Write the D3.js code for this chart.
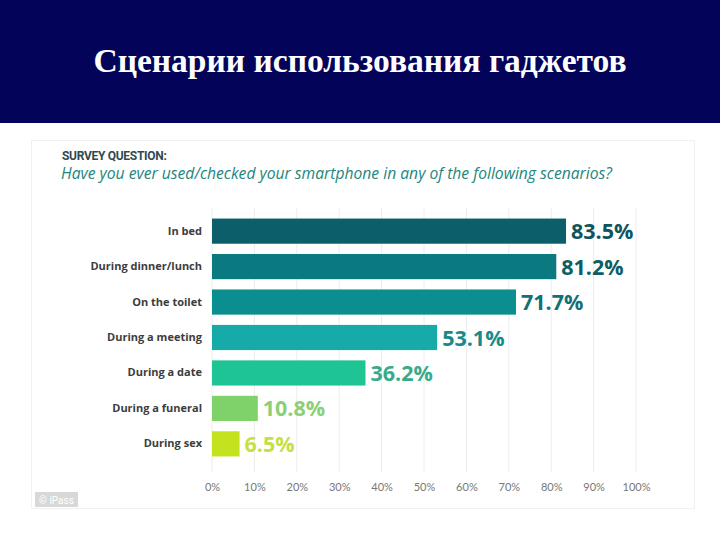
<!DOCTYPE html>
<html>
<head>
<meta charset="utf-8">
<script src="https://cdn.jsdelivr.net/npm/d3@7"></script>
<style>
  body { margin: 0; background: #fff; }
  svg { display: block; }
</style>
</head>
<body>
<svg id="svg1" width="720" height="540"></svg>
<script>
// data
const categories = ["In bed", "During dinner/lunch", "On the toilet", "During a meeting", "During a date", "During a funeral", "During sex"];
const values = [83.5, 81.2, 71.7, 53.1, 36.2, 10.8, 6.5];
const barColors = ["#0c5f6a", "#0a7a80", "#0b8e90", "#16aba9", "#1fc495", "#7fd16a", "#c4e21e"];
const labelColors = ["#0e5560", "#0e5e66", "#137076", "#1a8a88", "#37ab8c", "#8bd074", "#c6df45"];
const ticks = [0, 10, 20, 30, 40, 50, 60, 70, 80, 90, 100];

const svg = d3.select("#svg1");
const width = +svg.attr("width");

// header band
svg.append("rect").attr("x", 0).attr("y", 0).attr("width", width).attr("height", 123).attr("fill", "#03035a");
svg.append("text")
  .attr("x", width / 2).attr("y", 72)
  .attr("text-anchor", "middle")
  .attr("font-family", "Liberation Serif, DejaVu Serif, serif")
  .attr("font-weight", "bold")
  .attr("font-size", 33.5)
  .attr("fill", "#fff")
  .text("Сценарии использования гаджетов");

// faint frame of the pasted image
svg.append("rect").attr("x", 31.5).attr("y", 140.5).attr("width", 663).attr("height", 368)
  .attr("fill", "#fff").attr("stroke", "#f0f0f0");

svg.append("text")
  .attr("x", 62).attr("y", 160)
  .attr("font-family", "Roboto, sans-serif").attr("font-weight", "bold")
  .attr("font-size", 12).attr("fill", "#2f4a4f")
  .style("letter-spacing", "-0.3px")
  .text("SURVEY QUESTION:");
svg.append("text")
  .attr("x", 61).attr("y", 179)
  .attr("font-family", "Open Sans, sans-serif").attr("font-style", "italic")
  .attr("font-size", 15.5).attr("fill", "#23857d")
  .attr("textLength", 551).attr("lengthAdjust", "spacingAndGlyphs")
  .text("Have you ever used/checked your smartphone in any of the following scenarios?");

const x = d3.scaleLinear().domain([0, 100]).range([212, 636]);
const y = d3.scaleBand().domain(categories).range([215, 460]).paddingInner(0.29).paddingOuter(0.1);

// gridlines
const grid = svg.append("g");
grid.selectAll("line").data(ticks).enter().append("line")
  .attr("x1", d => x(d)).attr("x2", d => x(d))
  .attr("y1", 208).attr("y2", 472)
  .attr("stroke", "#ececec").attr("stroke-width", 1);

// tick labels
const xAxis = d3.axisBottom(x).tickValues(ticks).tickSize(0).tickFormat(d => d + "%");
const xg = svg.append("g").attr("transform", "translate(0,480)").call(xAxis);
xg.select(".domain").remove();
xg.selectAll("text")
  .attr("font-family", "Lato, sans-serif").attr("font-size", 11).attr("fill", "#777");

// bars
svg.selectAll("rect.bar").data(values).enter().append("rect")
  .attr("class", "bar")
  .attr("x", x(0))
  .attr("y", (d, i) => y(categories[i]))
  .attr("width", d => x(d) - x(0))
  .attr("height", y.bandwidth())
  .attr("fill", (d, i) => barColors[i]);

// category labels
const yAxis = d3.axisLeft(y).tickSize(0).tickPadding(10);
const yg = svg.append("g").attr("transform", `translate(${x(0)},0)`).call(yAxis);
yg.select(".domain").remove();
yg.selectAll("text")
  .attr("font-family", "Open Sans, sans-serif").attr("font-weight", "bold")
  .attr("font-size", 11).attr("fill", "#3c3c3c");

// value labels
svg.selectAll("text.val").data(values).enter().append("text")
  .attr("class", "val")
  .attr("x", d => x(d) + 5)
  .attr("y", (d, i) => y(categories[i]) + y.bandwidth() / 2 + 8)
  .attr("font-family", "Open Sans, sans-serif").attr("font-weight", "bold")
  .attr("font-size", 21.5).attr("fill", (d, i) => labelColors[i])
  .text(d => d + "%");

// source tag
svg.append("rect").attr("x", 35).attr("y", 492).attr("width", 43).attr("height", 15).attr("fill", "#d8d8d8");
svg.append("text").attr("x", 56.5).attr("y", 503.5).attr("text-anchor", "middle")
  .attr("font-family", "Roboto, sans-serif").attr("font-size", 10).attr("fill", "#fff")
  .text("© iPass");
</script>
</body>
</html>
